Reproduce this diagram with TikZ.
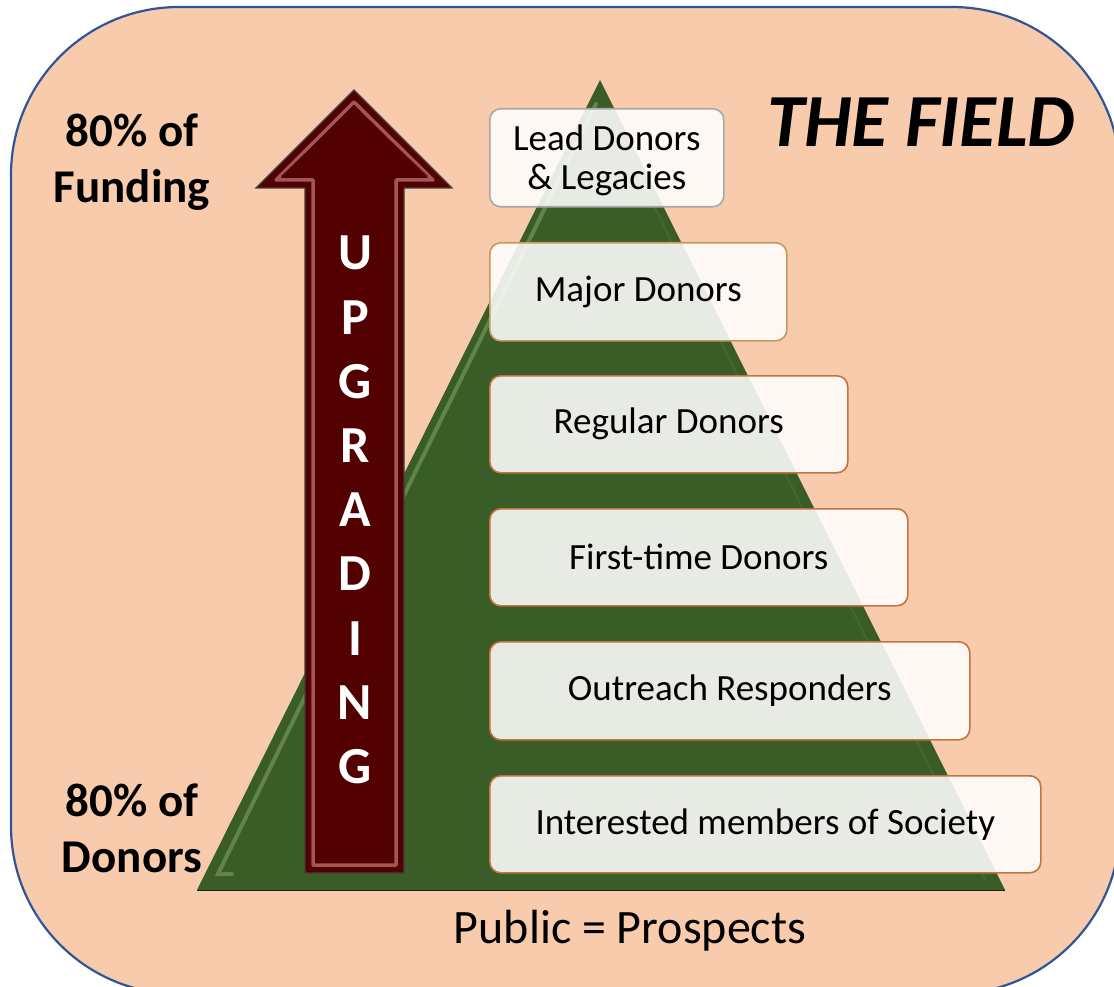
\documentclass[tikz,border=0pt]{standalone}
\usepackage{fontspec}
\setmainfont{Carlito}
\definecolor{peach}{HTML}{F8CBAD}
\definecolor{frameblue}{HTML}{2F5597}
\definecolor{pyrgreen}{HTML}{3A5C26}
\definecolor{pyrlight}{HTML}{7FA865}
\definecolor{arrowred}{HTML}{520000}
\definecolor{arrowpink}{HTML}{C47C7C}
\definecolor{boxborder}{HTML}{C2743F}
\definecolor{boxtan}{HTML}{C49A5E}
\definecolor{boxgray}{HTML}{A8A8A8}
\tikzset{
  tier/.style={draw=boxborder, line width=1.6pt, fill=white, fill opacity=0.88, text opacity=1,
    rounded corners=11pt, inner sep=0pt, anchor=north west},
  tiertext/.style={font=\fontsize{37}{42}\selectfont, align=center},
  sidelabel/.style={font=\fontsize{47}{56}\selectfont\bfseries, align=center},
  letter/.style={font=\fontsize{52}{52}\selectfont\bfseries, text=white},
}
\begin{document}
\begin{tikzpicture}[x=1pt,y=-1pt]
\useasboundingbox (0,0) rectangle (1114,987);
% background frame
\begin{scope}
\clip (0,0) rectangle (1114,987);
\draw[fill=peach, draw=frameblue, line width=2.2pt, rounded corners=168pt] (11,7) rectangle (1120,994);
\end{scope}
% pyramid
\coordinate (apex) at (600,80);
\coordinate (bl) at (197,890);
\coordinate (br) at (1005,890);
\fill[pyrgreen] (apex) -- (br) -- (bl) -- cycle;
\draw[pyrlight, line width=4pt, opacity=0.55, line cap=round] (596,104) -- (218,874) -- (232,874);
\draw[pyrlight, line width=2pt, opacity=0.15] (607,110) -- (985,880);
\draw[black!60!pyrgreen, line width=1pt] (bl) -- (br);
% arrow
\draw[fill=arrowred, draw=black!75, line width=1.3pt, line join=miter]
  (354,90) -- (452,188) -- (404,188) -- (404,873) -- (305,873) -- (305,188) -- (256,188) -- cycle;
\draw[arrowpink, line width=3.5pt, opacity=0.7, line join=round]
  (276,180) -- (313,180) -- (313,865) -- (396,865) -- (396,180) -- (433,180) -- (354,102) -- cycle;
\draw[arrowred, line width=1.5pt, opacity=0.7, line join=round]
  (282,176) -- (317,176) -- (317,861) -- (392,861) -- (392,176) -- (427,176) -- (354,108) -- cycle;
\foreach \l [count=\i from 0] in {U,P,G,R,A,D,I,N,G}
  \node[letter] (up\i) at (355,{253+64.2*\i}) {\l};
% tiers
\node[tier, draw=boxgray, minimum width=234pt, minimum height=98pt] (t1) at (489,108) {};
\node[tiertext] at ([yshift=-3pt]t1.center) {Lead Donors\\[-3pt]\& Legacies};
\node[tier, draw=boxtan, minimum width=297pt, minimum height=98pt] (t2) at (489,242) {};
\node[tiertext] at (t2.center) {Major Donors};
\node[tier, minimum width=358pt, minimum height=97pt] (t3) at (489,375) {};
\node[tiertext] at (t3.center) {Regular Donors};
\node[tier, minimum width=418pt, minimum height=97pt] (t4) at (489,508) {};
\node[tiertext] at (t4.center) {First-time Donors};
\node[tier, minimum width=480pt, minimum height=98pt] (t5) at (489,641) {};
\node[tiertext] at (t5.center) {Outreach Responders};
\node[tier, minimum width=551pt, minimum height=97pt] (t6) at (489,775) {};
\node[tiertext] at (t6.center) {Interested members of Society};
% side labels
\node[sidelabel] (fund) at (132,162) {80\% of\\Funding};
\node[sidelabel] (don) at (132,828) {80\% of\\Donors};
\node[font=\fontsize{75}{80}\selectfont\bfseries\itshape] (field) at (921,122) {THE FIELD};
\node[font=\fontsize{48}{52}\selectfont] (pub) at (630,931) {Public = Prospects};
\end{tikzpicture}
\end{document}
